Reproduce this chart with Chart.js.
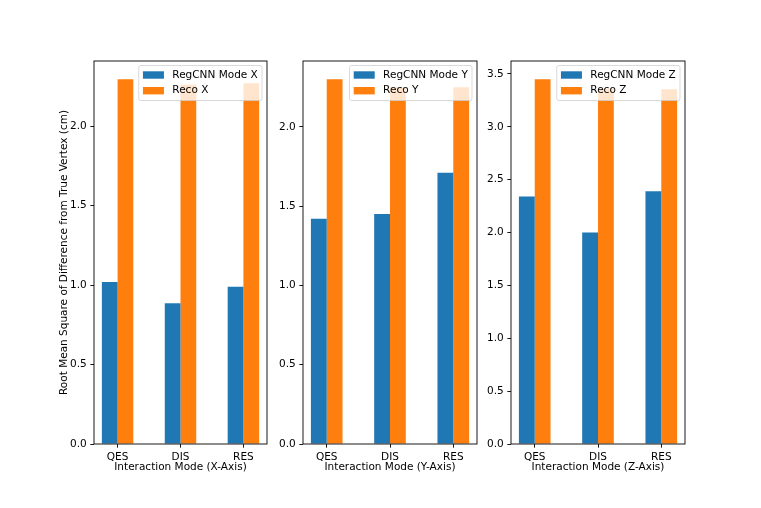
<!DOCTYPE html>
<html>
<head>
<meta charset="utf-8">
<script src="https://cdn.jsdelivr.net/npm/chart.js@4.4.1/dist/chart.umd.min.js"></script>
<style>
  body { margin: 0; background: #fff; }
  #wrap { position: relative; width: 761px; height: 508px; }
  canvas { position: absolute; left: 0; top: 0; }
</style>
</head>
<body>
<div id="wrap">
  <canvas id="cx" width="761" height="508"></canvas>
  <canvas id="cy" width="761" height="508"></canvas>
  <canvas id="cz" width="761" height="508"></canvas>
</div>
<script>
// data
const categories = ['QES', 'DIS', 'RES'];
const regcnnX = [1.02, 0.885, 0.99];
const recoX = [2.295, 2.26, 2.27];
const regcnnY = [1.42, 1.45, 1.71];
const recoY = [2.30, 2.25, 2.25];
const regcnnZ = [2.34, 2.0, 2.39];
const recoZ = [3.45, 3.36, 3.355];
const ticksXY = [0, 0.5, 1.0, 1.5, 2.0];
const ticksZ = [0, 0.5, 1.0, 1.5, 2.0, 2.5, 3.0, 3.5];

const BLUE = '#1f77b4';
const ORANGE = '#ff7f0e';
const FONT = { family: 'DejaVu Sans', size: 10.5 };

// axes frame + matplotlib style legend
const panelDecor = {
  id: 'panelDecor',
  afterDatasetsDraw(chart) {
    const { ctx, chartArea: a } = chart;
    ctx.save();
    ctx.strokeStyle = '#000';
    ctx.lineWidth = 0.9;
    ctx.strokeRect(a.left, a.top, a.right - a.left, a.bottom - a.top);

    const fs = FONT.size;
    ctx.font = fs + 'px "DejaVu Sans"';
    const ds = chart.data.datasets;
    const textW = Math.max(...ds.map(d => ctx.measureText(d.label).width));
    const pad = 0.4 * fs, hl = 2 * fs, htp = 0.8 * fs, rowH = 15.7;
    const w = pad * 2 + hl + htp + textW;
    const h = 35;
    const x = a.right - 5 - w;
    const y = a.top + 4.5;
    ctx.beginPath();
    ctx.roundRect(x, y, w, h, 2);
    ctx.fillStyle = 'rgba(255,255,255,0.8)';
    ctx.fill();
    ctx.strokeStyle = 'rgba(204,204,204,0.8)';
    ctx.lineWidth = 0.9;
    ctx.stroke();
    ds.forEach((d, i) => {
      const cy = y + 9.5 + i * rowH;
      ctx.fillStyle = d.backgroundColor;
      ctx.fillRect(x + pad, cy - 3.7, hl, 7.4);
      ctx.fillStyle = '#000';
      ctx.textBaseline = 'middle';
      ctx.textAlign = 'left';
      ctx.fillText(d.label, x + pad + hl + htp, cy);
    });
    ctx.restore();
  }
};

function makePanel(id, area, regcnn, reco, names, yTicks, xTitle, yTitle) {
  const yW = yTitle ? area.left - 57.7 : 30;
  const xH = 29.3;
  const ymax = Math.max(...regcnn, ...reco) * 1.05;
  const grid = { drawOnChartArea: false, offset: false, color: '#000', tickColor: '#000', lineWidth: 0.9, tickLength: 3.7 };
  return new Chart(document.getElementById(id), {
    type: 'bar',
    data: {
      datasets: [
        { label: names[0], data: regcnn.map((v, i) => ({ x: i, y: v })), backgroundColor: BLUE, borderWidth: 0 },
        { label: names[1], data: reco.map((v, i) => ({ x: i, y: v })), backgroundColor: ORANGE, borderWidth: 0 }
      ]
    },
    options: {
      responsive: false,
      animation: false,
      events: [],
      categoryPercentage: 0.5,
      barPercentage: 1,
      layout: {
        padding: { left: area.left - yW, right: 761 - area.right, top: area.top, bottom: 508 - area.bottom - xH }
      },
      plugins: { legend: { display: false }, tooltip: { enabled: false } },
      scales: {
        x: {
          type: 'linear',
          offset: false,
          min: -0.375,
          max: 2.375,
          grid: grid,
          border: { display: false },
          afterBuildTicks: s => { s.ticks = categories.map((c, i) => ({ value: i })); },
          afterFit: s => { s.height = xH; },
          ticks: {
            font: FONT, color: '#000', padding: 3.5, maxRotation: 0, autoSkip: false,
            callback: (v, i) => categories[i]
          },
          title: { display: true, text: xTitle, font: FONT, color: '#000', padding: 0 }
        },
        y: {
          min: 0,
          max: ymax,
          grid: grid,
          border: { display: false },
          afterBuildTicks: s => { s.ticks = yTicks.map(v => ({ value: v })); },
          afterFit: s => { s.width = yW; },
          ticks: { font: FONT, color: '#000', padding: 3.5, callback: v => v.toFixed(1) },
          title: { display: !!yTitle, text: yTitle || '', font: FONT, color: '#000', padding: 0 }
        }
      }
    },
    plugins: [panelDecor]
  });
}

makePanel('cx', { left: 94, right: 267, top: 61, bottom: 444 }, regcnnX, recoX,
  ['RegCNN Mode X', 'Reco X'], ticksXY, 'Interaction Mode (X-Axis)',
  'Root Mean Square of Difference from True Vertex (cm)');
makePanel('cy', { left: 303, right: 477, top: 61, bottom: 444 }, regcnnY, recoY,
  ['RegCNN Mode Y', 'Reco Y'], ticksXY, 'Interaction Mode (Y-Axis)');
makePanel('cz', { left: 511, right: 685, top: 61, bottom: 444 }, regcnnZ, recoZ,
  ['RegCNN Mode Z', 'Reco Z'], ticksZ, 'Interaction Mode (Z-Axis)');
</script>
</body>
</html>
